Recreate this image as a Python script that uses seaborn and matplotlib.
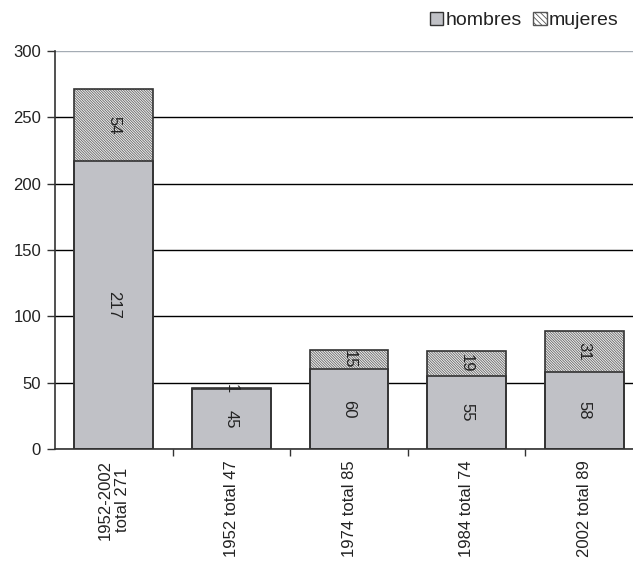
import matplotlib
matplotlib.use("Agg")
import matplotlib.pyplot as plt
import seaborn as sns
from matplotlib.patches import Patch

# data
categorias = ["1952-2002\ntotal 271", "1952 total 47", "1974 total 85",
              "1984 total 74", "2002 total 89"]
hombres = [217, 45, 60, 55, 58]
mujeres = [54, 1, 15, 19, 31]
totales = [h + m for h, m in zip(hombres, mujeres)]

sns.set_theme(style="white")
plt.rcParams['font.family'] = ['Liberation Sans', 'DejaVu Sans']
plt.rcParams['hatch.linewidth'] = 0.6

fig = plt.figure(figsize=(6.33, 5.65), dpi=100)
ax = fig.add_axes([55 / 633, 116 / 565, 588 / 633, 398 / 565])

gris = '#c0c1c6'
borde = '#333333'
trama = '\\' * 13
txt = '#222222'

# mujeres (hatched) stacked on top of hombres
sns.barplot(x=categorias, y=totales, color='#f2f2f2', edgecolor='#666666',
            linewidth=0, hatch=trama, width=0.67, saturation=1, ax=ax)
sns.barplot(x=categorias, y=hombres, color=gris, edgecolor=borde,
            linewidth=1.2, width=0.67, saturation=1, ax=ax)
sns.barplot(x=categorias, y=totales, color=borde, fill=False,
            linewidth=1.2, width=0.67, ax=ax)

# value labels
for i, (h, m) in enumerate(zip(hombres, mujeres)):
    ax.text(i, h / 2, str(h), rotation=-90, ha='center', va='center',
            fontsize=12, color=txt)
    ax.text(i, h + m / 2, str(m), rotation=-90, ha='center', va='center',
            fontsize=12, color=txt)

ax.set_ylim(0, 300)
ax.set_xlim(-0.5, 4.5)
ax.set_yticks(range(0, 301, 50))
ax.yaxis.grid(True, color='black', linewidth=1)
ax.set_axisbelow(True)
ax.get_ygridlines()[-1].set_color('#a4acb4')

for s in ['top', 'right']:
    ax.spines[s].set_visible(False)
ax.spines['left'].set_color(borde)
ax.spines['bottom'].set_color(borde)
ax.spines['left'].set_linewidth(1.2)
ax.spines['bottom'].set_linewidth(1.2)

ax.tick_params(axis='y', direction='out', length=6, width=1, color=borde,
               left=True, labelsize=12, pad=4, labelcolor=txt)
ax.set_xticks(range(len(categorias)))
ax.set_xticklabels(categorias, rotation=90, fontsize=12, color=txt,
                   ha='center', va='top', multialignment='center')
ax.tick_params(axis='x', length=0, pad=8)
ax.set_xticks([0.5, 1.5, 2.5, 3.5], minor=True)
ax.tick_params(axis='x', which='minor', direction='out', length=5,
               width=1, color=borde, bottom=True)
ax.set_xlabel('')
ax.set_ylabel('')

handles = [Patch(facecolor=gris, edgecolor=borde, label='hombres'),
           Patch(facecolor='white', edgecolor='#555555', hatch='\\' * 6,
                 label='mujeres')]
fig.legend(handles=handles, loc='upper right', bbox_to_anchor=(636 / 633, 1.01),
           ncol=2, frameon=False, fontsize=14, handlelength=0.7,
           handleheight=0.7, handletextpad=0.1, columnspacing=0.6,
           labelcolor=txt)

fig.savefig('out.png', dpi=100)
